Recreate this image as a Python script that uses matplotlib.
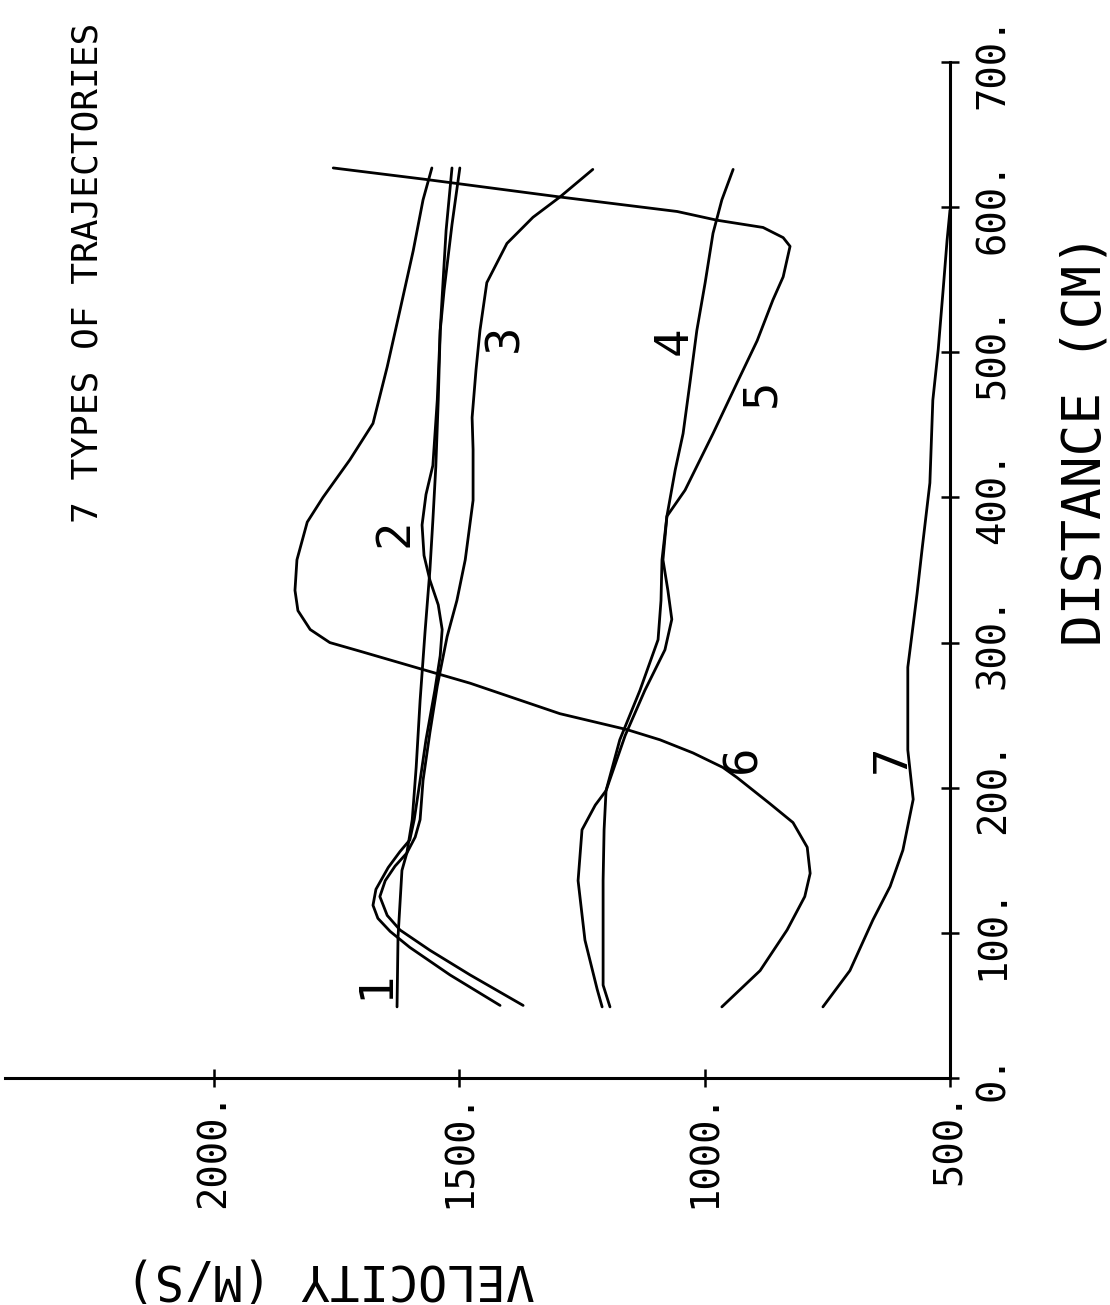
import matplotlib
matplotlib.use("Agg")
import matplotlib.pyplot as plt

# velocity (m/s) against distance (cm) for the 7 trajectory types
dist1 = [49, 97, 143, 155, 178, 214, 260, 307, 350, 384, 421, 467, 515, 543, 588, 627]
vel1 = [1627, 1625, 1617, 1607, 1596, 1588, 1580, 1570, 1560, 1554, 1548, 1543, 1539, 1531, 1515, 1499]

dist2 = [50, 71, 90, 101, 110, 119, 130, 145, 156, 164, 178, 205, 233, 267, 291, 309,
         326, 343, 360, 381, 402, 422, 467, 515, 550, 584, 627]
vel2 = [1417, 1519, 1601, 1641, 1666, 1676, 1670, 1645, 1621, 1601, 1592, 1580, 1568, 1550, 1539, 1535,
        1543, 1560, 1572, 1576, 1568, 1554, 1545, 1539, 1533, 1527, 1515]

dist3 = [50, 71, 88, 102, 112, 125, 136, 146, 155, 166, 178, 205, 238, 270, 304, 329, 357,
         398, 433, 455, 488, 515, 548, 575, 593, 607, 626]
vel3 = [1370, 1478, 1560, 1621, 1647, 1662, 1651, 1631, 1607, 1590, 1580, 1574, 1560, 1545, 1525, 1505, 1488,
        1472, 1472, 1474, 1466, 1458, 1444, 1403, 1350, 1295, 1228]

dist4 = [49, 64, 102, 136, 171, 198, 233, 267, 302, 329, 357, 387, 419, 444, 479, 515, 548, 582, 605, 626]
vel4 = [1193, 1207, 1207, 1207, 1205, 1201, 1173, 1132, 1095, 1089, 1087, 1077, 1060, 1044, 1030, 1016,
        999, 983, 965, 942]

dist5 = [49, 61, 95, 136, 171, 188, 198, 236, 267, 295, 316, 336, 357, 387, 405, 444, 479, 508,
         536, 552, 573, 579, 586, 591, 597, 607, 619, 627]
vel5 = [1209, 1219, 1244, 1258, 1250, 1223, 1201, 1162, 1122, 1081, 1067, 1075, 1085, 1077, 1040, 983, 934, 893,
        861, 840, 826, 840, 881, 975, 1056, 1295, 1566, 1757]

dist6 = [49, 74, 102, 125, 141, 159, 176, 189, 207, 214, 224, 233, 240, 251, 272, 282, 294, 300,
         309, 322, 336, 357, 383, 400, 426, 451, 490, 529, 570, 605, 627]
vel6 = [965, 887, 832, 796, 785, 791, 820, 867, 934, 963, 1024, 1091, 1158, 1295, 1478, 1580, 1702, 1764,
        1804, 1829, 1835, 1831, 1810, 1778, 1723, 1676, 1647, 1621, 1594, 1574, 1556]

dist7 = [49, 74, 109, 132, 157, 192, 226, 283, 307, 334, 364, 410, 467, 502, 543, 577, 598]
vel7 = [759, 704, 657, 622, 596, 575, 586, 586, 577, 567, 557, 541, 535, 524, 514, 506, 500]

curves = [(vel1, dist1), (vel2, dist2), (vel3, dist3), (vel4, dist4),
          (vel5, dist5), (vel6, dist6), (vel7, dist7)]
curve_names = ['1', '2', '3', '4', '5', '6', '7']

vel_ticks = [500, 1000, 1500, 2000]
dist_ticks = [0, 100, 200, 300, 400, 500, 600, 700]

plt.rcParams['font.family'] = ['DejaVu Sans Mono']

fig = plt.figure(figsize=(11.1, 13.05), dpi=100)
ax = fig.add_axes([5 / 1110, 227 / 1305, 945 / 1110, 1016 / 1305])

for v, d in curves:
    ax.plot(v, d, color='black', lw=2.0, solid_joinstyle='round', solid_capstyle='round')

# curve numbers, written sideways like the rest of the plot
label_spots = [(1670, 64), (1631, 376), (1407, 510), (1062, 508), (883, 472), (922, 220), (618, 220)]
for name, (v, d) in zip(curve_names, label_spots):
    ax.text(v, d, name, rotation=90, fontsize=34, ha='center', va='center', rotation_mode='anchor')

ax.set_xlim(2426, 500)
ax.set_ylim(0, 700)

ax.spines[['left', 'top']].set_visible(False)
ax.spines[['right', 'bottom']].set_linewidth(2.2)
ax.yaxis.tick_right()
ax.set_xticks(vel_ticks, [f'{t}.' for t in vel_ticks])
ax.set_yticks(dist_ticks, [f'{t}.' for t in dist_ticks])
ax.tick_params(axis='both', direction='inout', length=13, width=1.8, labelsize=28, labelrotation=90)
ax.tick_params(axis='x', pad=3)
ax.tick_params(axis='y', pad=11)
plt.setp(ax.get_yticklabels(), va='center')

ax.set_xlabel('VELOCITY (M/S)', rotation=180, fontsize=35, ha='center', va='center')
ax.xaxis.set_label_coords(0.344, -0.197)
ax.yaxis.set_label_position('right')
ax.set_ylabel('DISTANCE (CM)', rotation=90, fontsize=38, ha='center', va='center')
ax.yaxis.set_label_coords(1.143, 0.628)

fig.text(88 / 1110, 1 - 273 / 1305, '7 TYPES OF TRAJECTORIES', rotation=90, fontsize=26,
         ha='center', va='center', rotation_mode='anchor')

fig.savefig('out.png', dpi=100, facecolor='white')
